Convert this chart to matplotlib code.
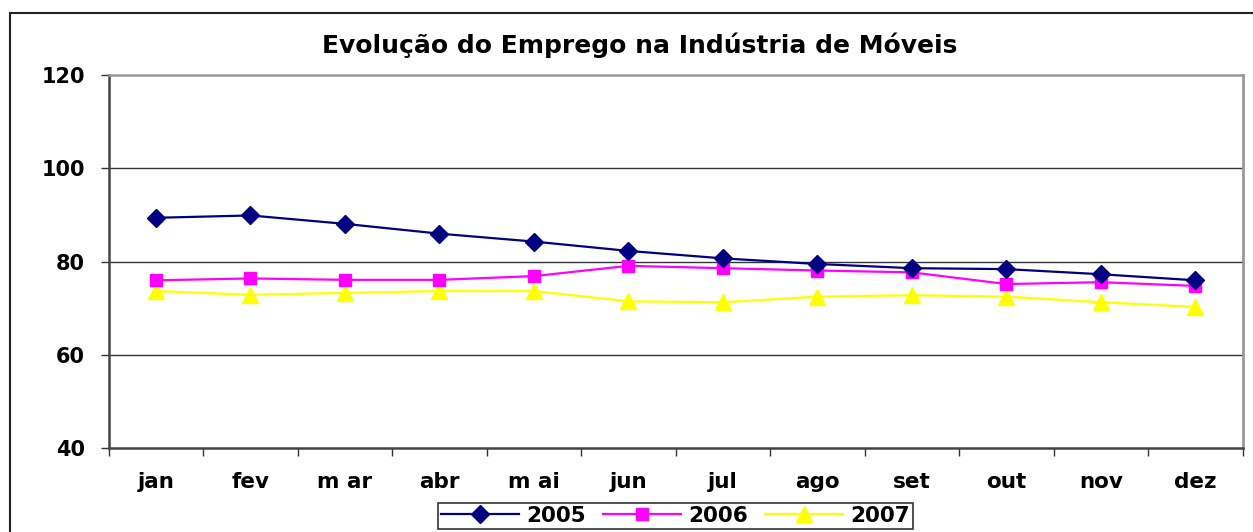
import matplotlib
matplotlib.use("Agg")
import matplotlib.pyplot as plt
from matplotlib.patches import Rectangle
import numpy as np

months = ["jan", "fev", "m ar", "abr", "m ai", "jun", "jul", "ago", "set", "out", "nov", "dez"]
y2005 = [89.4, 89.9, 88.1, 86.0, 84.3, 82.3, 80.7, 79.5, 78.6, 78.4, 77.3, 76.0]
y2006 = [76.0, 76.4, 76.1, 76.1, 76.9, 79.1, 78.6, 78.1, 77.7, 75.2, 75.6, 74.8]
y2007 = [73.7, 72.9, 73.3, 73.7, 73.7, 71.5, 71.3, 72.5, 72.8, 72.5, 71.3, 70.3]
yticks = [40, 60, 80, 100, 120]
title = "Evolução do Emprego na Indústria de Móveis"

plt.rcParams['font.family'] = ['DejaVu Sans']

W, H = 1253, 532
fig = plt.figure(figsize=(W / 100, H / 100), dpi=100)
fig.patch.set_facecolor("white")

# outer chart frame
fig.patches.append(Rectangle((10 / W, -0.1), 1.2, 1 - 13 / H + 0.1, transform=fig.transFigure,
                             fill=False, edgecolor="#222222", linewidth=1.5, zorder=0))

left, right, top, bottom = 108.7, 1242.7, 75, 448.3
ax = fig.add_axes([left / W, 1 - bottom / H, (right - left) / W, (bottom - top) / H])

x = np.arange(len(months))
ax.plot(x, y2005, color="#000080", marker="D", markersize=9.5, linewidth=1.6, label="2005", zorder=5)
ax.plot(x, y2006, color="#FF00FF", marker="s", markersize=8.5, linewidth=1.6, label="2006", zorder=4)
ax.plot(x, y2007, color="#FFFF00", marker="^", markersize=11, linewidth=1.6, label="2007", zorder=3)

ax.set_xlim(-0.5, len(months) - 0.5)
ax.set_ylim(40, 120)
ax.set_yticks(yticks)
ax.set_yticklabels([str(v) for v in yticks], fontsize=15, fontweight="bold")
ax.set_xticks(x)
ax.set_xticklabels(months, fontsize=15.5, fontweight="bold")
ax.set_xticks(np.arange(len(months) + 1) - 0.5, minor=True)
ax.tick_params(axis="x", which="major", length=0, pad=17)
ax.tick_params(axis="x", which="minor", length=6, width=1, color="#333333", direction="out")
ax.tick_params(axis="y", which="major", length=6, width=1, color="#333333", direction="out", pad=11)

for v in yticks[1:-1]:
    ax.axhline(v, color="#333333", linewidth=1.0, zorder=1)

ax.spines["left"].set_color("#444444")
ax.spines["left"].set_linewidth(1.8)
ax.spines["bottom"].set_color("#444444")
ax.spines["bottom"].set_linewidth(1.8)
ax.spines["top"].set_color("#999999")
ax.spines["top"].set_linewidth(1.8)
ax.spines["right"].set_color("#999999")
ax.spines["right"].set_linewidth(2.0)

fig.text(640 / W, 1 - 45 / H, title, ha="center", va="center", fontsize=18, fontweight="bold")

leg = fig.legend(loc="center", bbox_to_anchor=(675.5 / W, 1 - 516 / H), ncol=3,
                 frameon=True, fancybox=False, shadow=False, handlelength=3.6,
                 columnspacing=0.8, handletextpad=0.35, borderpad=0.15,
                 prop={"size": 15.5, "weight": "bold"})
leg.get_frame().set_edgecolor("black")
leg.get_frame().set_linewidth(1.2)

fig.savefig("out.png", dpi=100)
